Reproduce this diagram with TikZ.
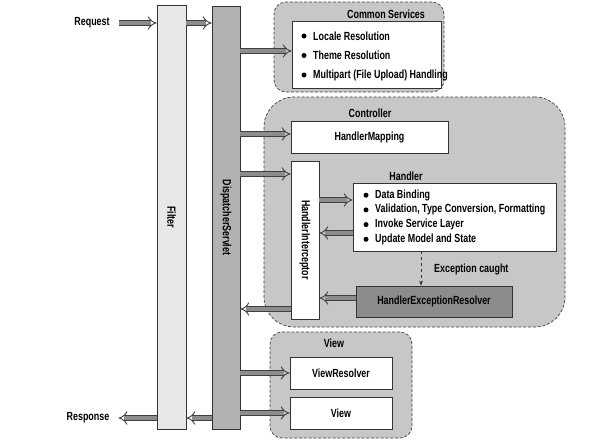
\documentclass[tikz,border=0pt]{standalone}
\usepackage{fontspec}
\setmainfont{Liberation Sans}[FakeStretch=0.755]
\usetikzlibrary{arrows.meta,positioning}

\tikzset{
  txt/.style={font=\bfseries\fontsize{11.8}{13}\selectfont, inner sep=0pt},
  box/.style={draw=black!80, line width=0.8pt, fill=white, txt},
  group/.style={draw=black!75, dash pattern=on 3pt off 1.8pt, fill=black!22, line width=0.7pt, rounded corners=12pt},
  fat/.style={draw=black!75, double=black!45, double distance=3.8pt, line width=0.9pt, -{Implies}},
}

\begin{document}
\begin{tikzpicture}[x=1pt,y=-1pt]
\useasboundingbox (0,0) rectangle (609,442);
% groups
\node[group, minimum width=170pt, minimum height=90pt] (common) at (359,47) {};
\node[group, rounded corners=30pt, minimum width=301pt, minimum height=230pt] (ctrl) at (414.5,212) {};
\node[group, minimum width=142pt, minimum height=106pt] (viewgrp) at (341,385) {};
\node[txt] (commontitle) at (386,14) {Common Services};
\node[txt] (ctrltitle) at (370,113) {Controller};
\node[txt] (handlertitle) at (406,176) {Handler};
\node[txt] (viewtitle) at (334,343) {View};
% columns
\node[box, fill=black!9, minimum width=29pt, minimum height=424pt, label={[txt,rotate=-90]center:Filter}] (filter) at (171.5,217) {};
\node[box, fill=black!30, minimum width=28pt, minimum height=423pt, label={[txt,rotate=-90]center:DispatcherServlet}] (ds) at (226,217.5) {};
% boxes
\node[box, minimum width=149pt, minimum height=67pt] (services) at (366.5,54.5) {};
\foreach \t [count=\i] in {Locale Resolution, Theme Resolution, Multipart (File Upload) Handling} {
  \fill (304,16.5+19.5*\i) circle (2.5pt);
  \node[txt, anchor=west] at (313,16.5+19.5*\i) {\t};
}
\node[box, minimum width=157pt, minimum height=32pt] (hmap) at (369.5,137) {HandlerMapping};
\node[box, minimum width=28pt, minimum height=158pt, label={[txt,rotate=-90]center:HandlerInterceptor}] (hint) at (305,240) {};
\node[box, minimum width=203pt, minimum height=68pt] (handler) at (454.5,217) {};
\foreach \t [count=\i] in {Data Binding, {Validation, Type Conversion, Formatting}, Invoke Service Layer, Update Model and State} {
  \fill (366,180.5+14.7*\i) circle (2.5pt);
  \node[txt, anchor=west] at (375,180.5+14.7*\i) {\t};
}
\node[box, fill=black!45, minimum width=156pt, minimum height=31pt] (hexr) at (434,301.5) {HandlerExceptionResolver};
\node[box, minimum width=102pt, minimum height=32pt] (vres) at (341,373) {ViewResolver};
\node[box, minimum width=102pt, minimum height=32pt] (view) at (341,413) {View};
\node[txt] (req) at (92,23) {Request};
\node[txt] (resp) at (88,418) {Response};
\node[txt, anchor=west] (exc) at (434,269) {Exception caught};
% arrows
\draw[fat] ([xshift=9pt]req.east) -- (filter.west |- req.east);
\draw[fat] (filter.east |- req.east) -- (ds.west |- req.east);
\draw[fat] (ds.east |- 0,51) -- (services.west |- 0,51);
\draw[fat] (ds.east |- 0,134) -- (hmap.west |- 0,134);
\draw[fat] (ds.east |- 0,174) -- (hint.west |- 0,174);
\draw[fat] (hint.west |- 0,309) -- (ds.east |- 0,309);
\draw[fat] (hint.east |- 0,200) -- (handler.west |- 0,200);
\draw[fat] (handler.west |- 0,233) -- (hint.east |- 0,233);
\draw[fat] (hexr.west |- 0,298) -- (hint.east |- 0,298);
\draw[draw=black!80, dashed, line width=0.7pt, -{Stealth[length=5pt]}] (handler.south -| 421,0) -- (hexr.north -| 421,0);
\draw[fat] (ds.east |- vres.west) -- (vres.west);
\draw[fat] (ds.east |- view.west) -- (view.west);
\draw[fat] (ds.west |- 0,418) -- (filter.east |- 0,418);
\draw[fat] (filter.west |- 0,418) -- ([xshift=9pt]resp.east);
\end{tikzpicture}
\end{document}
